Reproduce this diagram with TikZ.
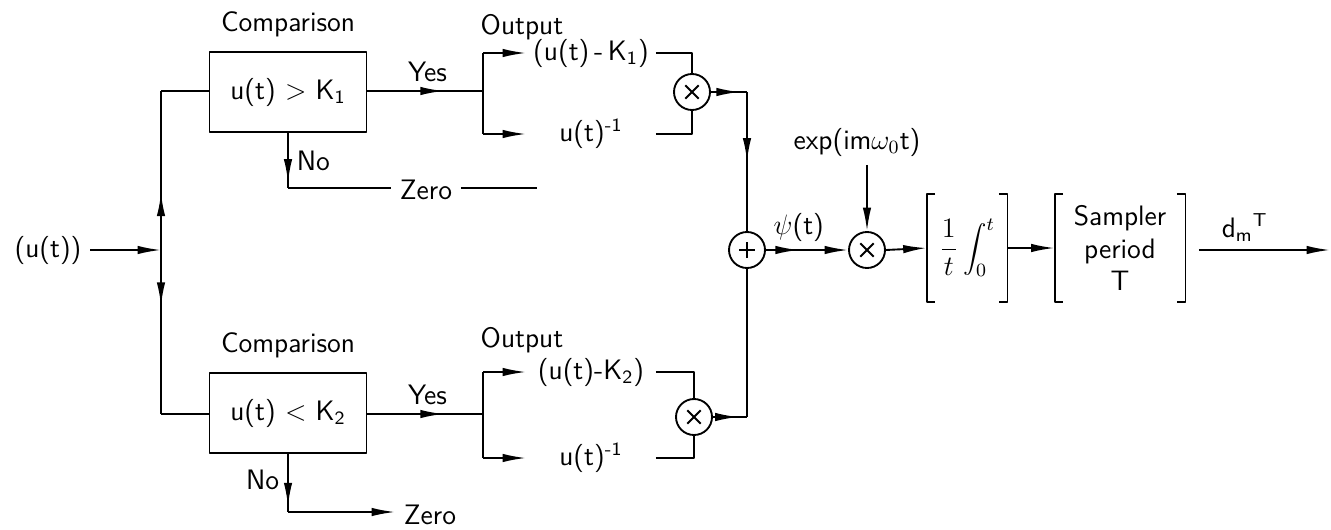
\documentclass[tikz,border=0pt]{standalone}
\usetikzlibrary{arrows.meta,decorations.markings,positioning}
\tikzset{
  blockdiag/.style={
    x=0.015cm, y=-0.015cm,
    thick, line join=round,
    >={Latex[length=10pt,width=3.6pt]},
    every node/.append style={font=\sffamily\large},
  },
  cmpbox/.style={draw, minimum width=2.355cm, minimum height=1.2cm},
  outlabel/.style={minimum width=1.92cm, inner sep=0pt},
  junction/.style={circle, draw, minimum size=0.54cm, inner sep=0pt},
  mult/.style={junction, path picture={
      \draw ([shift={(-0.1cm,-0.1cm)}]path picture bounding box.center)
        -- ([shift={(0.1cm,0.1cm)}]path picture bounding box.center);
      \draw ([shift={(-0.1cm,0.1cm)}]path picture bounding box.center)
        -- ([shift={(0.1cm,-0.1cm)}]path picture bounding box.center);}},
  summer/.style={junction, path picture={
      \draw ([xshift=-0.12cm]path picture bounding box.center)
        -- ([xshift=0.12cm]path picture bounding box.center);
      \draw ([yshift=-0.12cm]path picture bounding box.center)
        -- ([yshift=0.12cm]path picture bounding box.center);}},
  bracketed/.style={inner sep=0pt, align=center, minimum height=1.59cm},
  midarrow/.style={decoration={markings,
      mark=at position #1 with {\arrow{>}}}, postaction={decorate}},
  midarrow/.default=0.5,
}
% square brackets round a node
\newcommand{\bracketpair}[1]{
  \draw ([xshift=0.13cm]#1.north west) -- (#1.north west)
    -- (#1.south west) -- ++(0.13cm,0);
  \draw ([xshift=-0.13cm]#1.north east) -- (#1.north east)
    -- (#1.south east) -- ++(-0.13cm,0);
}

\begin{document}
\begin{tikzpicture}[blockdiag]
\useasboundingbox (0,0) rectangle (1331,529);

% input and bus
\node (uin) at (48,250) {(u(t))};
\coordinate (split) at (161,250);
\coordinate (bustop) at (161,91);
\coordinate (busbot) at (161,414);
\draw[->] (uin.east) -- (split);
\draw[midarrow=0.36] (split) -- (bustop);
\draw[midarrow=0.34] (split) -- (busbot);

% comparisons
\node[cmpbox] (cmpA) at (288,92) {u(t) > K\textsubscript{1}};
\node[cmpbox] (cmpB) at (288,413) {u(t) < K\textsubscript{2}};
\node[above=0.08cm of cmpA] (cmplblA) {Comparison};
\node[above=0.08cm of cmpB] (cmplblB) {Comparison};
\draw (bustop) -- (bustop -| cmpA.west);
\draw (busbot) -- (busbot -| cmpB.west);

% upper branch
\coordinate (forkA) at (483,91);
\node[outlabel] (outA1) at (591,53) {(u(t)\,-\,K\textsubscript{1})};
\node[outlabel] (outA2) at (591,134) {u(t)\textsuperscript{-1}};
\node (outlblA) at (522,27) {Output};
\draw[midarrow=0.66] (forkA -| cmpA.east) -- (forkA)
  node[above, pos=0.52] (yesA) {Yes};
\draw (forkA |- outA1) -- (forkA |- outA2);
\draw[->] (forkA |- outA1) -- (outA1.west);
\draw[->] (forkA |- outA2) -- (outA2.west);
\node[mult] (multA) at (692,92) {};
\draw (outA1.east) -| (multA.north);
\draw (outA2.east) -| (multA.south);

\coordinate (noA) at (288,188);
\node (zeroA) at (426,190) {Zero};
\coordinate (zeroendA) at (537,188);
\draw[midarrow=0.9] (cmpA.south) -- (noA)
  node[right, pos=0.5] (nolblA) {No};
\draw (noA) -- (zeroA.west |- noA);
\draw (zeroA.east |- noA) -- (zeroendA);

% lower branch
\coordinate (forkB) at (483,414);
\node[outlabel] (outB1) at (591,372) {(u(t)-K\textsubscript{2})};
\node[outlabel] (outB2) at (591,458) {u(t)\textsuperscript{-1}};
\node (outlblB) at (522,340) {Output};
\draw[midarrow=0.66] (forkB -| cmpB.east) -- (forkB)
  node[above, pos=0.52] (yesB) {Yes};
\draw (forkB |- outB1) -- (forkB |- outB2);
\draw[->] (forkB |- outB1) -- (outB1.west);
\draw[->] (forkB |- outB2) -- (outB2.west);
\node[mult] (multB) at (694,417) {};
\draw (outB1.east) -| (multB.north);
\draw (outB2.east) -| (multB.south);

\coordinate (noB) at (288,512);
\node (zeroB) at (430,515) {Zero};
\draw[midarrow=0.9] (cmpB.south) -- (noB)
  node[left, pos=0.45] (nolblB) {No};
\draw[->] (noB) -- (zeroB.west |- noB);

% summing and demodulation
\node[summer] (sum) at (747,250) {};
\draw[midarrow=0.8] (multA.east) -- (multA.east -| sum);
\draw[midarrow=0.5] (multA.east -| sum) -- (sum.north);
\draw[midarrow=0.75] (multB.east) -- (multB.east -| sum);
\draw (multB.east -| sum) -- (sum.south);

\node[mult] (multC) at (867,250) {};
\node (expin) at (857,142) {exp(im$\omega_0$t)};
\draw[->, midarrow=0.4] (sum.east) -- (multC.west)
  node[above, pos=0.4] (psilbl) {$\psi$(t)};
\draw[->] (expin.south -| multC) -- (multC.north);

\node[bracketed, minimum width=1.185cm] (int) at (967,248)
  {$\displaystyle\frac{1}{t}\int_0^t$};
\bracketpair{int}
\node[bracketed, minimum width=1.935cm] (samp) at (1120,248)
  {Sampler\\period\\T};
\bracketpair{samp}
\draw[->] (multC.east) -- (int.west);
\draw[->] (int.east) -- (samp.west);

\coordinate (dout) at (1330,250);
\draw[->] ([xshift=0.2cm]samp.east |- dout) -- (dout)
  node[above, pos=0.35] (dlbl) {d\textsubscript{m}\textsuperscript{T}};
\end{tikzpicture}
\end{document}
